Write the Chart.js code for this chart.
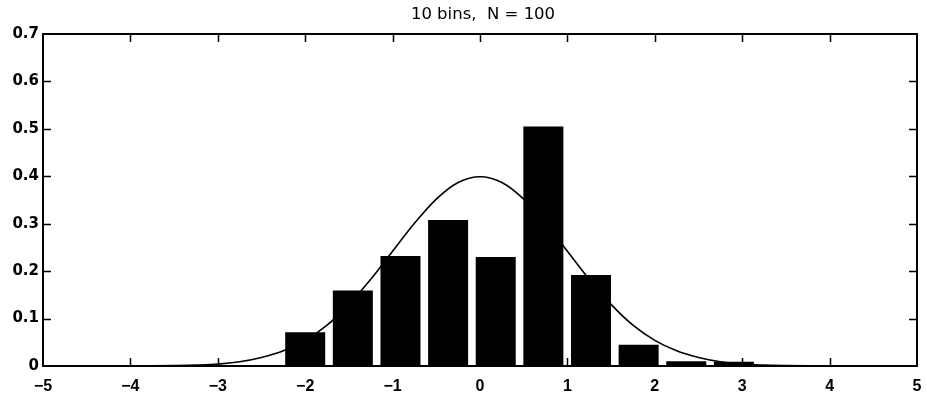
<!DOCTYPE html>
<html>
<head>
<meta charset="utf-8">
<script src="https://cdn.jsdelivr.net/npm/chart.js@4.4.1/dist/chart.umd.min.js"></script>
<style>
  html, body { margin: 0; padding: 0; background: #fff; }
  #wrap { width: 927px; height: 406px; position: relative; }
</style>
</head>
<body>
<div id="wrap"><canvas id="c" width="927" height="406"></canvas></div>
<script>
// ---- data ----
const titleText = "10 bins,  N = 100";
const binCenters = [-2.00, -1.455, -0.91, -0.365, 0.18, 0.725, 1.27, 1.815, 2.36, 2.905];
const binHeights = [0.071, 0.159, 0.232, 0.308, 0.230, 0.505, 0.192, 0.045, 0.010, 0.009];
const curveX = [-5, -4.75, -4.5, -4.25, -4, -3.75, -3.5, -3.25, -3, -2.75, -2.5, -2.25, -2, -1.75, -1.5, -1.25, -1, -0.75, -0.5, -0.25, 0,
                0.25, 0.5, 0.75, 1, 1.25, 1.5, 1.75, 2, 2.25, 2.5, 2.75, 3, 3.25, 3.5, 3.75, 4, 4.25, 4.5, 4.75, 5];
const curveY = [0, 0, 0, 0, 0.0001, 0.0004, 0.001, 0.002, 0.004, 0.009, 0.018, 0.032, 0.054, 0.086, 0.130, 0.183, 0.242, 0.301, 0.352, 0.387, 0.399,
                0.387, 0.352, 0.301, 0.242, 0.183, 0.130, 0.086, 0.054, 0.032, 0.018, 0.009, 0.004, 0.002, 0.001, 0.0004, 0.0001, 0, 0, 0, 0];
const xTicks = [-5, -4, -3, -2, -1, 0, 1, 2, 3, 4, 5];
const yTicks = [0, 0.1, 0.2, 0.3, 0.4, 0.5, 0.6, 0.7];

const barData = binCenters.map((x, i) => ({ x: x, y: binHeights[i] }));
const lineData = curveX.map((x, i) => ({ x: x, y: curveY[i] }));

const framePlugin = {
  id: 'frame',
  afterDatasetsDraw(chart) {
    const { ctx, chartArea: a, scales } = chart;
    ctx.save();
    ctx.strokeStyle = '#000';
    ctx.lineWidth = 2;
    ctx.strokeRect(a.left, a.top, a.right - a.left, a.bottom - a.top);
    ctx.lineWidth = 1.5;
    const tl = 8;
    ctx.beginPath();
    xTicks.forEach(v => {
      if (v === xTicks[0] || v === xTicks[xTicks.length - 1]) return;
      const px = Math.round(scales.x.getPixelForValue(v)) + 0.5;
      ctx.moveTo(px, a.bottom); ctx.lineTo(px, a.bottom - tl);
      ctx.moveTo(px, a.top); ctx.lineTo(px, a.top + tl);
    });
    yTicks.forEach(v => {
      if (v === yTicks[0] || v === yTicks[yTicks.length - 1]) return;
      const py = Math.round(scales.y.getPixelForValue(v)) + 0.5;
      ctx.moveTo(a.left, py); ctx.lineTo(a.left + tl, py);
      ctx.moveTo(a.right, py); ctx.lineTo(a.right - tl, py);
    });
    ctx.stroke();
    // title
    ctx.fillStyle = '#000';
    ctx.font = '16.5px "DejaVu Sans"';
    ctx.textAlign = 'center';
    ctx.textBaseline = 'middle';
    ctx.fillText(titleText, (a.left + a.right) / 2 + 3, 15);
    ctx.restore();
  }
};

new Chart(document.getElementById('c'), {
  type: 'bar',
  data: {
    datasets: [
      {
        type: 'line',
        data: lineData,
        borderColor: '#000',
        borderWidth: 1.6,
        pointRadius: 0,
        fill: false,
        tension: 0.4,
        cubicInterpolationMode: 'monotone',
        order: 1
      },
      {
        type: 'bar',
        data: barData,
        backgroundColor: '#000',
        borderWidth: 0,
        barPercentage: 0.84,
        categoryPercentage: 1,
        order: 2
      }
    ]
  },
  options: {
    responsive: false,
    animation: false,
    layout: { padding: { top: 34, right: 10, left: 0, bottom: 0 } },
    plugins: { legend: { display: false }, tooltip: { enabled: false }, title: { display: false } },
    scales: {
      x: {
        type: 'linear',
        min: -5, max: 5,
        offset: false,
        grid: { display: false, drawTicks: false },
        border: { display: false },
        afterBuildTicks: s => { s.ticks = xTicks.map(v => ({ value: v })); },
        afterFit: s => { s.height = 40; s.paddingLeft = 0; s.paddingRight = 0; },
        ticks: {
          color: '#000',
          padding: 11,
          maxRotation: 0,
          autoSkip: false,
          font: { family: '"Liberation Sans"', size: 16, weight: 'bold' },
          callback: v => v < 0 ? '\u2212' + Math.abs(v) : String(v)
        }
      },
      y: {
        type: 'linear',
        min: 0, max: 0.7,
        grid: { display: false, drawTicks: false },
        border: { display: false },
        afterBuildTicks: s => { s.ticks = yTicks.map(v => ({ value: v })); },
        afterFit: s => { s.width = 43; s.paddingTop = 0; s.paddingBottom = 0; },
        ticks: {
          color: '#000',
          padding: 4,
          autoSkip: false,
          font: { family: '"DejaVu Sans"', size: 15, weight: 'bold' },
          callback: v => v === 0 ? '0' : Number(v).toFixed(1)
        }
      }
    }
  },
  plugins: [framePlugin]
});
</script>
</body>
</html>
